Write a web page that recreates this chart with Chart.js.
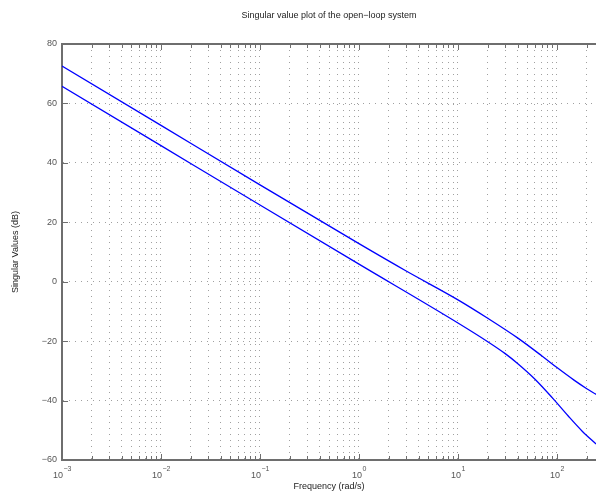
<!DOCTYPE html>
<html>
<head>
<meta charset="utf-8">
<script src="https://cdn.jsdelivr.net/npm/chart.js@4/dist/chart.umd.min.js"></script>
<style>
  html, body { margin: 0; padding: 0; background: #fff; }
  #wrap { width: 596px; height: 497px; }
</style>
</head>
<body>
<div id="wrap"><canvas id="c"></canvas></div>
<script>
// values (frequency in rad/s, singular values in dB)
const freqUpper = [0.001, 0.01, 0.1, 1, 3, 10, 20, 40, 70, 100, 150, 200, 248];
const svUpper = [72.6, 52.6, 32.6, 12.8, 3.6, -6.1, -12.3, -18.9, -24.9, -28.9, -33.2, -36.0, -37.9];
const freqLower = [0.001, 0.01, 0.1, 1, 10, 20, 30, 40, 60, 90, 130, 180, 248];
const svLower = [65.8, 45.8, 25.8, 5.9, -13.9, -20.2, -24.2, -27.5, -32.8, -39.1, -45.2, -50.3, -54.6];
const decades = [-3, -2, -1, 0, 1, 2];
const yTicks = [-60, -40, -20, 0, 20, 40, 60, 80];

const FONT = 'Liberation Sans';
const axisColor = '#6e6e6e';
const gridColor = '#a0a0a0';

const pts = (xs, ys) => xs.map((f, i) => ({ x: f, y: ys[i] }));

// inward tick marks, top edge, and 10^n labels (MATLAB look)
const matlabAxes = {
  id: 'matlabAxes',
  afterDraw(chart) {
    const { ctx, chartArea: a, scales: { x, y } } = chart;
    ctx.save();
    ctx.strokeStyle = axisColor;
    ctx.lineWidth = 2;
    ctx.beginPath();
    ctx.moveTo(a.left, a.top);
    ctx.lineTo(a.right + 2, a.top);
    ctx.stroke();

    ctx.lineWidth = 1;
    ctx.beginPath();
    x.ticks.forEach(t => {
      const px = Math.round(x.getPixelForValue(t.value)) + 0.5;
      const len = t.major ? 6 : 4;
      ctx.moveTo(px, a.bottom);
      ctx.lineTo(px, a.bottom - len);
      ctx.moveTo(px, a.top);
      ctx.lineTo(px, a.top + len);
    });
    y.ticks.forEach(t => {
      const py = Math.round(y.getPixelForValue(t.value)) + 0.5;
      ctx.moveTo(a.left, py);
      ctx.lineTo(a.left + 6, py);
    });
    ctx.stroke();

    ctx.fillStyle = '#555';
    ctx.textBaseline = 'alphabetic';
    ctx.textAlign = 'left';
    decades.forEach(e => {
      const px = x.getPixelForValue(Math.pow(10, e));
      const ex = String(e).replace('-', '\u2212');
      ctx.font = '9px "' + FONT + '"';
      const w1 = ctx.measureText('10').width;
      ctx.font = '7px "' + FONT + '"';
      const w2 = ctx.measureText(ex).width;
      const start = px - (w1 + w2) / 2;
      ctx.font = '9px "' + FONT + '"';
      ctx.fillText('10', start, a.bottom + 18);
      ctx.font = '7px "' + FONT + '"';
      ctx.fillText(ex, start + w1 + 0.5, a.bottom + 11);
    });
    ctx.restore();
  }
};

new Chart(document.getElementById('c'), {
  type: 'line',
  data: {
    datasets: [
      { label: 'upper', data: pts(freqUpper, svUpper), borderColor: '#0000ff', borderWidth: 1.3,
        pointRadius: 0, cubicInterpolationMode: 'monotone', fill: false },
      { label: 'lower', data: pts(freqLower, svLower), borderColor: '#0000ff', borderWidth: 1.3,
        pointRadius: 0, cubicInterpolationMode: 'monotone', fill: false }
    ]
  },
  options: {
    responsive: true,
    maintainAspectRatio: false,
    animation: false,
    layout: { padding: 0 },
    plugins: {
      legend: { display: false },
      tooltip: { enabled: false },
      title: {
        display: true,
        text: 'Singular value plot of the open\u2212loop system',
        fullSize: false,
        color: '#222',
        font: { family: FONT, size: 9, weight: 'normal' },
        padding: { top: 10, bottom: 23.2 }
      }
    },
    scales: {
      x: {
        type: 'logarithmic',
        min: 0.001,
        max: 248,
        afterBuildTicks(scale) {
          const ticks = [];
          decades.forEach(e => {
            for (let m = 1; m <= 9; m++) {
              const v = m * Math.pow(10, e);
              if (v >= scale.min && v <= scale.max) ticks.push({ value: v, major: m === 1 });
            }
          });
          scale.ticks = ticks;
        },
        afterFit(scale) { scale.height = 37; },
        ticks: { display: false },
        grid: { color: gridColor, lineWidth: 1, drawTicks: false },
        border: { color: axisColor, width: 2, dash: [1, 5] },
        title: {
          display: true,
          text: 'Frequency (rad/s)',
          color: '#222',
          font: { family: FONT, size: 9 },
          padding: { top: 0, bottom: 5 }
        }
      },
      y: {
        min: -60,
        max: 80,
        afterBuildTicks(scale) { scale.ticks = yTicks.map(v => ({ value: v })); },
        afterFit(scale) { scale.width = 62; },
        ticks: {
          color: '#555',
          font: { family: FONT, size: 9 },
          padding: 5,
          callback: v => String(v).replace('-', '\u2212')
        },
        grid: { color: gridColor, lineWidth: 1, drawTicks: false },
        border: { color: axisColor, width: 2, dash: [1, 5] },
        title: {
          display: true,
          text: 'Singular Values (dB)',
          color: '#222',
          font: { family: FONT, size: 9 },
          padding: { top: 10, bottom: 0 }
        }
      }
    }
  },
  plugins: [matlabAxes]
});
</script>
</body>
</html>
